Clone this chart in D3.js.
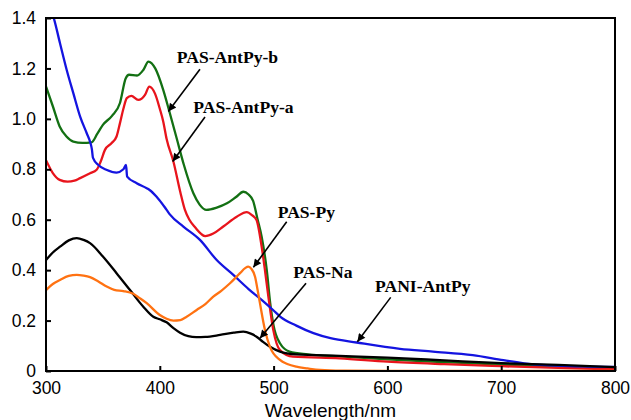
<!DOCTYPE html>
<html>
<head>
<meta charset="utf-8">
<script src="https://cdn.jsdelivr.net/npm/d3@7"></script>
<style>
  html, body { margin: 0; padding: 0; background: #fff; }
  svg { display: block; }
</style>
</head>
<body>
<svg id="chart" width="631" height="420"></svg>
<script>
// ---- data (wavelength nm, absorbance) ----
const pasAntPyB = [[300,1.128],[306,1.05],[312,0.97],[318,0.93],[324,0.91],[332,0.905],[340,0.907],[345,0.94],[350,0.976],[358,1.012],[365,1.063],[370,1.16],[373,1.175],[380,1.172],[385.5,1.194],[390,1.227],[396,1.20],[403,1.115],[408,1.036],[415,0.92],[421,0.82],[429.5,0.705],[435,0.66],[441,0.639],[450,0.648],[459,0.665],[467,0.69],[473.4,0.711],[478,0.70],[482,0.675],[486,0.6],[489.5,0.533],[494,0.40],[497,0.27],[500,0.18],[505.6,0.11],[514,0.077],[530,0.066],[558,0.058],[600,0.046],[650,0.035],[700,0.025],[750,0.018],[800,0.012]];
const pasAntPyA = [[300,0.836],[306,0.785],[312,0.758],[319,0.751],[325,0.755],[330,0.765],[338.7,0.784],[344.5,0.798],[348,0.83],[351.8,0.877],[357.7,0.904],[362,0.93],[365,0.983],[368,1.04],[371,1.082],[375,1.091],[381,1.075],[387,1.095],[390.8,1.128],[395.8,1.10],[400,1.04],[403,0.99],[406,0.92],[412,0.83],[418,0.71],[422,0.64],[426,0.6],[431,0.57],[440,0.535],[447,0.545],[455.8,0.573],[467.6,0.612],[476.4,0.63],[481,0.618],[485,0.599],[489.5,0.493],[492.4,0.40],[495.4,0.295],[499.7,0.163],[505.6,0.083],[517,0.057],[558,0.05],[600,0.037],[650,0.027],[700,0.019],[750,0.012],[800,0.007]];
const paniAntPy = [[300,1.47],[306.4,1.406],[312.3,1.30],[318.2,1.194],[324,1.102],[330,1.009],[335.8,0.943],[339,0.905],[340.3,0.88],[341.3,0.845],[346,0.817],[353,0.798],[362,0.787],[368,0.80],[370.3,0.817],[371.3,0.771],[379.7,0.745],[388.5,0.725],[391,0.718],[397,0.692],[406,0.639],[409,0.62],[420.7,0.573],[435.3,0.52],[450,0.44],[464.6,0.381],[478,0.325],[490,0.28],[500,0.24],[506,0.215],[520,0.18],[535,0.15],[550,0.13],[573,0.113],[611,0.088],[640,0.077],[675,0.063],[702,0.043],[728,0.026],[772,0.018],[800,0.016]];
const pasNa = [[300,0.44],[306,0.47],[312.3,0.493],[320,0.518],[327,0.527],[333,0.52],[338.7,0.507],[350,0.454],[362,0.388],[373.8,0.321],[385.5,0.255],[394.3,0.215],[400,0.205],[406,0.193],[412,0.17],[417.8,0.152],[425,0.138],[432,0.134],[440,0.135],[453,0.143],[465,0.152],[473.4,0.156],[480,0.148],[485,0.136],[490,0.118],[496.8,0.096],[505.6,0.077],[520,0.066],[558,0.06],[600,0.053],[650,0.042],[700,0.031],[750,0.024],[800,0.015]];
const pasPy = [[300,0.321],[306,0.345],[312.3,0.361],[320,0.377],[327,0.381],[333,0.378],[338.7,0.372],[346,0.355],[353.3,0.335],[360,0.322],[368,0.317],[376.7,0.306],[382,0.29],[388.5,0.269],[400,0.222],[406,0.207],[412,0.2],[418,0.202],[423.6,0.215],[432.4,0.242],[440,0.265],[447,0.295],[454,0.318],[461.7,0.348],[470.5,0.388],[475,0.408],[477.8,0.414],[480.5,0.405],[483.7,0.374],[486,0.32],[488,0.269],[492.4,0.163],[496.8,0.096],[505.6,0.044],[512,0.028],[520,0.017],[530,0.01],[540.8,0.004],[560,0.001],[600,0],[800,0]];

const seriesNames = ["PAS-AntPy-b","PAS-AntPy-a","PANI-AntPy","PAS-Na","PAS-Py"];
const seriesColors = ["#137013","#e8141c","#1414e0","#000000","#ff7212"];
const seriesData = [pasAntPyB, pasAntPyA, paniAntPy, pasNa, pasPy];

const xTicks = [300,400,500,600,700,800];
const yTicks = [0,0.2,0.4,0.6,0.8,1.0,1.2,1.4];
const yTickLabels = ["0","0.2","0.4","0.6","0.8","1.0","1.2","1.4"];
const xTitle = "Wavelength/nm";

// annotations: label anchor [x,y], arrow start [x,y], arrow tip [x,y] in data units
const annLabels = ["PAS-AntPy-b","PAS-AntPy-a","PAS-Py","PAS-Na","PANI-AntPy"];
const annText = [[414.9,1.221],[429.4,1.023],[503.6,0.606],[517.3,0.368],[589.1,0.315]];
const annFrom = [[435.3,1.197],[439.7,1.007],[511.5,0.592],[528.5,0.348],[602.9,0.292]];
const annTip  = [[407.5,1.029],[411.3,0.831],[482.2,0.411],[488.0,0.130],[573.6,0.116]];

// ---- layout ----
const mLeft = 46, mRight = 615, mTop = 18, mBottom = 371;
const svg = d3.select("#chart");
const x = d3.scaleLinear().domain([300,800]).range([mLeft,mRight]);
const y = d3.scaleLinear().domain([0,1.4]).range([mBottom,mTop]);

const defs = svg.append("defs");
defs.append("clipPath").attr("id","plotclip")
  .append("rect").attr("x",mLeft).attr("y",mTop).attr("width",mRight-mLeft).attr("height",mBottom-mTop);
const marker = defs.append("marker")
  .attr("id","arrow").attr("viewBox","0 0 10 10").attr("refX",10).attr("refY",5)
  .attr("markerWidth",11).attr("markerHeight",8).attr("markerUnits","userSpaceOnUse")
  .attr("orient","auto");
marker.append("path").attr("d","M0,0 L10,5 L0,10 Z").attr("fill","#000");

// lines
const line = d3.line().x(d=>x(d[0])).y(d=>y(d[1])).curve(d3.curveMonotoneX);
const g = svg.append("g").attr("clip-path","url(#plotclip)");
seriesData.forEach((s,i)=>{
  g.append("path").datum(s).attr("d",line)
    .attr("fill","none").attr("stroke",seriesColors[i]).attr("stroke-width",2.3)
    .attr("stroke-linejoin","round").attr("stroke-linecap","round");
});

// axes
const fontSans = "'Liberation Sans', Arial, Helvetica, sans-serif";
const xAxis = d3.axisBottom(x).tickValues(xTicks).tickFormat(d3.format("d"))
  .tickSizeInner(-5).tickSizeOuter(0).tickPadding(11);
const yAxis = d3.axisLeft(y).tickValues(yTicks).tickFormat((d,i)=>yTickLabels[i])
  .tickSizeInner(-5).tickSizeOuter(0).tickPadding(10);
const gx = svg.append("g").attr("transform",`translate(0,${mBottom})`).call(xAxis);
const gy = svg.append("g").attr("transform",`translate(${mLeft},0)`).call(yAxis);
[gx,gy].forEach(a=>{
  a.select(".domain").remove();
  a.selectAll(".tick line").attr("stroke","#000").attr("stroke-width",2);
  a.selectAll(".tick text").attr("fill","#000").style("font-family",fontSans).style("font-size","17.5px");
});

// frame
svg.append("rect").attr("x",mLeft).attr("y",mTop).attr("width",mRight-mLeft).attr("height",mBottom-mTop)
  .attr("fill","none").attr("stroke","#000").attr("stroke-width",2);

// x title
svg.append("text").attr("x",(mLeft+mRight)/2).attr("y",416.5).attr("text-anchor","middle")
  .style("font-family",fontSans).style("font-size","19px").attr("fill","#000").text(xTitle);

// annotations
annLabels.forEach((t,i)=>{
  svg.append("text").attr("x",x(annText[i][0])).attr("y",y(annText[i][1]))
    .style("font-family","'Liberation Serif','Times New Roman',serif").style("font-weight","bold")
    .style("font-size","17.6px").attr("fill","#000").text(t);
  svg.append("line")
    .attr("x1",x(annFrom[i][0])).attr("y1",y(annFrom[i][1]))
    .attr("x2",x(annTip[i][0])).attr("y2",y(annTip[i][1]))
    .attr("stroke","#000").attr("stroke-width",1.6).attr("marker-end","url(#arrow)");
});
</script>
</body>
</html>
